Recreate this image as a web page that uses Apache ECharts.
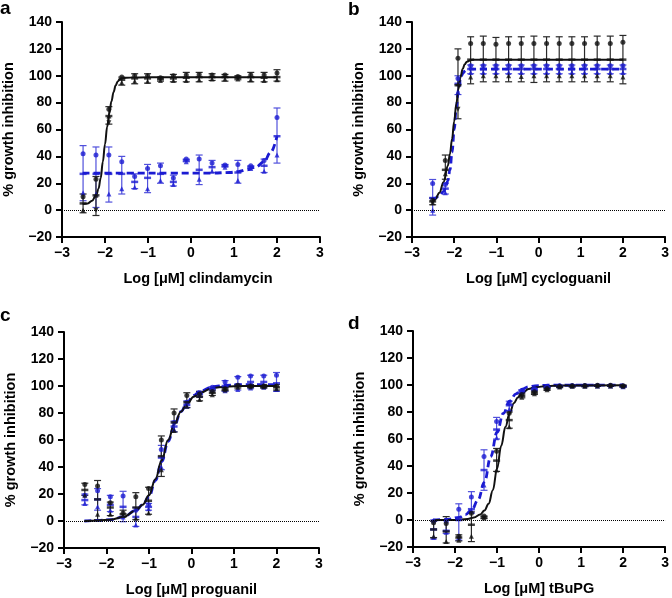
<!DOCTYPE html>
<html><head><meta charset="utf-8">
<script src="https://cdn.jsdelivr.net/npm/echarts@6/dist/echarts.min.js"></script>
<style>html,body{margin:0;padding:0;background:#fff}#c{width:672px;height:598px}</style>
</head><body><div id="c"></div>
<script>
// log10 concentrations (µM), 2-fold dilutions
const conc = [-2.51, -2.21, -1.91, -1.61, -1.31, -1.01, -0.71, -0.41, -0.11, 0.19, 0.49, 0.79, 1.09, 1.39, 1.70, 2.00];
const xTicks = [-3, -2, -1, 0, 1, 2, 3];
const yTicks = [-20, 0, 20, 40, 60, 80, 100, 120, 140];

// ---- panel a: clindamycin ----
const aBlkMean = [5, 11, 70, 97, 98, 98, 97.5, 98, 98.5, 99, 99, 99, 98.5, 99, 98.5, 99];
const aBlkLo = [-2, -4, 64, 93, 94, 94.5, 96, 95.5, 95.5, 95.5, 96.5, 96, 97, 95.5, 95.5, 96];
const aBlkHi = [12, 25, 77, 99, 101.5, 101.5, 99, 101, 102.5, 102.5, 101.5, 101, 100, 102.5, 102.5, 104.5];
const aBlkReps = [[10,0],[23,11,0],[75,70,65],[99,95],[100,96],[100,96],[98.5,96.5],[100,96.5],[100.5,96.5],[101,97],[100.5,97.5],[100.5,97.5],[99.5,97.5],[100.5,97],[100.5,96.5],[102,97]];
const aBluMean = [27, 27, 27, 27, 21, 24, 27, 21, 37, 30, 32, 33, 28, 32, 33, 55];
const aBluLo = [7, 2, 6, 12, 16, 13, 20, 18, 36, 19, 28, 32, 20, 31, 28, 35];
const aBluHi = [48, 47, 47, 40, 27, 34, 35, 26, 38, 41, 37, 34, 37, 33, 38, 76];
const aBluReps = [[42,13],[41,12],[41,12],[36,16],[25,17],[31,16],[33,22],[24,19],[38,36],[38,23],[35,29],[33.5,32],[34,22],[33,31],[37,29],[69,41]];
const aBlkCurveX = [-2.52, -2.4, -2.3, -2.2, -2.15, -2.1, -2.05, -2.0, -1.95, -1.9, -1.85, -1.8, -1.75, -1.7, -1.65, -1.6, -1.4, -1.0, 0, 1, 2.0];
const aBlkCurveY = [4.5, 5, 7, 11.5, 16, 24, 36, 49, 62, 72, 81, 88, 93, 96, 97.5, 98.2, 98.7, 98.8, 98.8, 98.8, 98.8];
const aBluCurveX = [-2.52, -1.5, -0.5, 0.5, 0.9, 1.1, 1.3, 1.5, 1.7, 1.85, 2.0];
const aBluCurveY = [27.5, 27.5, 27.5, 27.6, 28, 28.7, 30, 32, 36, 43, 55];

// ---- panel b: cycloguanil ----
const bBlkMean = [6.5, 30, 93, 112, 112, 112, 112, 112, 112, 112, 112, 112, 112, 112, 112, 112];
const bBlkLo = [4, 23, 68, 94, 95.5, 95.5, 95.5, 95.5, 95, 95.5, 95.5, 95.5, 95.5, 95.5, 95.5, 94];
const bBlkHi = [9, 41, 120, 129, 129.5, 128.5, 129, 129, 129.5, 129, 129, 129, 129, 129.5, 129.5, 130];
const bBlkReps = [[7.4,5.5],[37,27],[113,94,75],[124,99],[124,100],[123.5,100],[124,100],[124,99.5],[124,100],[124,100],[124,100],[124,100],[124,100],[124,100],[124,100],[125,99]];
const bBluMean = [9, 16, 94, 105, 105, 105, 105, 105, 105, 105, 105, 105, 105, 105, 105, 105];
const bBluLo = [-3.7, 12, 86, 101.5, 101.5, 101.5, 101.5, 101.5, 101.5, 101.5, 101.5, 101.5, 101.5, 101.5, 101.5, 101.5];
const bBluHi = [22.8, 20, 100, 108, 108, 108, 108, 108, 108, 108, 108, 108, 108, 108, 108, 108];
const bBluReps = [[19.8,0],[19,13],[98,88],[107.5,102.5],[107.5,102.5],[107.5,102.5],[107.5,102.5],[107.5,102.5],[107.5,102.5],[107.5,102.5],[107.5,102.5],[107.5,102.5],[107.5,102.5],[107.5,102.5],[107.5,102.5],[107.5,102.5]];
const bBlkCurveX = [-2.53, -2.45, -2.35, -2.25, -2.15, -2.1, -2.05, -2.0, -1.95, -1.9, -1.85, -1.8, -1.75, -1.7, -1.6, -1.5, 0, 2.0];
const bBlkCurveY = [5.5, 8, 13, 21, 33, 42, 53, 66, 79, 90, 99, 105, 108.5, 110.5, 111.7, 112, 112, 112];
const bBluCurveX = [-2.53, -2.45, -2.35, -2.25, -2.2, -2.15, -2.1, -2.05, -2.0, -1.95, -1.9, -1.85, -1.8, -1.75, -1.7, -1.6, 0, 2.0];
const bBluCurveY = [8, 9, 11, 14, 17, 22, 30, 43, 60, 76, 89, 97.5, 101.5, 103.5, 104.5, 105, 105, 105];

// ---- panel c: proguanil ----
const cBlkMean = [23, 16, 10, 5, 10, 15, 48, 73, 88, 92, 95, 97.5, 100, 100, 99.5, 99];
const cBlkLo = [19, 1, 4, 3, 1, 5, 33, 66, 84, 89, 93, 96.5, 98.5, 99, 98.5, 97];
const cBlkHi = [28, 30, 14, 8, 21, 25, 63, 83, 95, 96, 97, 99, 101, 101, 101, 101];
const cBlkReps = [[27,19],[26,5],[13.6,5],[6,4],[18,2],[24,6],[60,38],[80,67],[93,85],[94,90],[96,93.5],[98,97],[100.5,99],[100,99.5],[100,99.5],[100,98]];
const cBluMean = [15.5, 16, 12, 10.5, 3, 10.5, 47, 70, 86, 94, 98, 100, 101, 103, 103, 102];
const cBluLo = [12, 8, 7, -0.5, -4, 8, 38, 66, 84, 92, 96.5, 96, 97, 98, 98.5, 96];
const cBluHi = [20, 24, 19, 22, 10, 13, 56, 74, 89, 96, 99.5, 104, 107, 108, 108, 110];
const cBluReps = [[19,13],[22.5,10.6],[18,8],[18.5,3],[8,-3],[12,9],[53,40],[73,68],[88,85],[95,93],[99,97],[103,96.5],[106.5,97.5],[107.5,98.5],[107.5,99],[108,97.5]];
const cBlkCurveX = [-2.52, -2.2, -1.9, -1.6, -1.3, -1.15, -1.0, -0.85, -0.7, -0.55, -0.4, -0.25, -0.1, 0.05, 0.2, 0.5, 0.8, 1.2, 2.0];
const cBlkCurveY = [0, 0.4, 1, 3, 8, 12, 19, 31, 45, 60, 72, 81, 87, 92, 95, 98.5, 99.5, 100, 100];
const cBluCurveX = [-2.52, -2.2, -1.9, -1.6, -1.3, -1.15, -1.0, -0.85, -0.7, -0.55, -0.4, -0.25, -0.1, 0.05, 0.2, 0.5, 0.8, 1.2, 2.0];
const cBluCurveY = [0, 0.4, 1, 3, 8, 12, 18, 30, 44, 59, 71, 81, 88, 93, 96, 99.5, 100.5, 101, 101];

// ---- panel d: tBuPG ----
const dBlkMean = [-7, -8.5, -13, -3.5, 2, 44, 74, 92, 94.3, 97, 98.8, 99.2, 99.3, 99.5, 99.5, 99.2];
const dBlkLo = [-13, -17, -15.5, -16, 1, 36, 68, 90.5, 93, 96, 98, 98.5, 98.7, 99, 99, 98.5];
const dBlkHi = [-1, 2.5, -11, 6, 3, 53, 80, 93.5, 95.5, 98, 99.5, 99.8, 100, 100, 100, 100];
const dBlkReps = [[-2,-12],[-2.5,-16],[-12,-15],[5,-12],[3,1.5],[51,37],[79,69],[93,91],[95,93.6],[97.5,96.5],[99,98.5],[99.5,99],[99.6,99],[99.8,99.2],[99.8,99.2],[99.5,99]];
const dBluMean = [-7, -8, 0, 8, 37, 67, 85, 95.5, 97, 98.5, 99.3, 99.5, 99.5, 99.5, 99.5, 99];
const dBluLo = [-14, -10, -15, 5, 22, 60, 81, 94.5, 96, 98, 99, 99, 99, 99, 99, 98.5];
const dBluHi = [0, 0, 12, 21, 52, 76, 88, 96.5, 98, 99, 99.6, 100, 100, 100, 100, 99.5];
const dBluReps = [[-1,-13],[-1,-9],[8,-13],[17,7],[47,26],[73,61],[86.5,82],[96,95],[97.5,96.5],[99,98],[99.5,99],[99.7,99.3],[99.7,99.3],[99.7,99.3],[99.7,99.3],[99.3,98.7]];
const dBlkCurveX = [-2.52, -2.0, -1.7, -1.55, -1.4, -1.3, -1.2, -1.1, -1.0, -0.9, -0.8, -0.7, -0.6, -0.5, -0.4, -0.25, -0.1, 0.2, 0.5, 2.0];
const dBlkCurveY = [0, 0, 0.8, 1.8, 4, 7, 12, 22, 38, 55, 69, 79, 86.5, 91, 94, 97, 98.3, 99.3, 99.7, 99.8];
const dBluCurveX = [-2.52, -2.2, -1.9, -1.75, -1.6, -1.45, -1.3, -1.15, -1.0, -0.85, -0.7, -0.55, -0.4, -0.25, -0.1, 0.2, 2.0];
const dBluCurveY = [0, 0.5, 2, 4, 7.5, 15, 28, 47, 65, 79, 88, 93.5, 97, 98.7, 99.4, 99.8, 100];

const panelLetters = ['a', 'b', 'c', 'd'];
const xNames = ['clindamycin', 'cycloguanil', 'proguanil', 'tBuPG'];
const yName = '% growth inhibition';

const F = '"Liberation Sans", Arial, Helvetica, sans-serif';
const BLK = '#111111', BLU = '#1b1bd2';
const BLK_ERR = '#2a2a2a', BLU_ERR = '#5050dc';

const grids = [
  {left: 62, top: 22, width: 258, height: 215},
  {left: 412, top: 22, width: 256, height: 215},
  {left: 64, top: 332, width: 255, height: 216},
  {left: 413, top: 331, width: 255, height: 216}
];

const minus = v => (v < 0 ? '\u2212' + (-v) : String(v));

function xAx(gi, drug, shift) {
  return {
    gridIndex: gi, type: 'value', min: xTicks[0], max: xTicks[xTicks.length - 1], interval: 1,
    name: 'Log [\u03bcM] ' + drug, nameLocation: 'middle', nameGap: 34,
    nameTextStyle: {fontSize: 14.5, fontWeight: 'bold', color: '#000', fontFamily: F, padding: [0, 0, 0, shift]},
    axisLine: {onZero: false, lineStyle: {color: '#000', width: 2}},
    axisTick: {length: 6, lineStyle: {color: '#000', width: 2}},
    axisLabel: {fontSize: 14, fontWeight: 'bold', color: '#000', fontFamily: F, margin: 9, formatter: minus, showMinLabel: true, showMaxLabel: true},
    splitLine: {show: false}
  };
}
function yAx(gi) {
  return {
    gridIndex: gi, type: 'value', min: yTicks[0], max: yTicks[yTicks.length - 1], interval: 20,
    name: yName, nameLocation: 'middle', nameGap: 46,
    nameTextStyle: {fontSize: 14.5, fontWeight: 'bold', color: '#000', fontFamily: F},
    axisLine: {onZero: false, lineStyle: {color: '#000', width: 2}},
    axisTick: {length: 6, lineStyle: {color: '#000', width: 2}},
    axisLabel: {fontSize: 14, fontWeight: 'bold', color: '#000', fontFamily: F, margin: 10, formatter: minus},
    splitLine: {show: false}
  };
}

function errSeries(gi, lo, hi, color) {
  return {
    type: 'custom', xAxisIndex: gi, yAxisIndex: gi, silent: true, z: 2,
    data: conc.map((x, i) => [x, lo[i], hi[i]]),
    encode: {x: 0, y: [1, 2]},
    renderItem: function (params, api) {
      const x = api.value(0);
      const p1 = api.coord([x, api.value(1)]);
      const p2 = api.coord([x, api.value(2)]);
      const w = 3.5;
      const st = {stroke: color, lineWidth: 1.2};
      return {type: 'group', children: [
        {type: 'line', shape: {x1: p1[0], y1: p1[1], x2: p2[0], y2: p2[1]}, style: st},
        {type: 'line', shape: {x1: p1[0] - w, y1: p1[1], x2: p1[0] + w, y2: p1[1]}, style: st},
        {type: 'line', shape: {x1: p2[0] - w, y1: p2[1], x2: p2[0] + w, y2: p2[1]}, style: st}
      ]};
    }
  };
}
const SYMS = ['circle', 'triangle', 'path://M0,0 L10,0 L5,10 Z'];
function repSeries(gi, reps, color) {
  const data = [];
  reps.forEach((arr, i) => arr.forEach((v, k) => data.push({value: [conc[i], v], symbol: SYMS[k % 3]})));
  return {type: 'scatter', xAxisIndex: gi, yAxisIndex: gi, silent: true, z: 4, data,
    symbolSize: 5, itemStyle: {color: color}};
}
function meanSeries(gi, mean, color) {
  return {type: 'scatter', xAxisIndex: gi, yAxisIndex: gi, silent: true, z: 4,
    data: conc.map((x, i) => [x, mean[i]]), symbol: 'rect', symbolSize: [7, 2.5], itemStyle: {color: color}};
}
function curveSeries(gi, xs, ys, color, dashed) {
  return {type: 'line', xAxisIndex: gi, yAxisIndex: gi, silent: true, z: 3,
    data: xs.map((x, i) => [x, ys[i]]), smooth: 0.4, smoothMonotone: 'x', showSymbol: false,
    lineStyle: dashed ? {color: color, width: 2.8, type: [7, 4]} : {color: color, width: 2}};
}
function zeroLine(gi) {
  return {type: 'line', xAxisIndex: gi, yAxisIndex: gi, silent: true, data: [], z: 1,
    markLine: {silent: true, symbol: 'none', label: {show: false},
      lineStyle: {type: 'dotted', color: '#000', width: 1}, data: [{yAxis: 0}]}};
}

const panels = [
  {blk: [aBlkMean, aBlkLo, aBlkHi, aBlkReps, aBlkCurveX, aBlkCurveY], blu: [aBluMean, aBluLo, aBluHi, aBluReps, aBluCurveX, aBluCurveY]},
  {blk: [bBlkMean, bBlkLo, bBlkHi, bBlkReps, bBlkCurveX, bBlkCurveY], blu: [bBluMean, bBluLo, bBluHi, bBluReps, bBluCurveX, bBluCurveY]},
  {blk: [cBlkMean, cBlkLo, cBlkHi, cBlkReps, cBlkCurveX, cBlkCurveY], blu: [cBluMean, cBluLo, cBluHi, cBluReps, cBluCurveX, cBluCurveY]},
  {blk: [dBlkMean, dBlkLo, dBlkHi, dBlkReps, dBlkCurveX, dBlkCurveY], blu: [dBluMean, dBluLo, dBluHi, dBluReps, dBluCurveX, dBluCurveY]}
];

const series = [];
panels.forEach((p, gi) => {
  series.push(zeroLine(gi));
  [['blu', BLU, BLU_ERR, true], ['blk', BLK, BLK_ERR, false]].forEach(([k, col, ecol, dashed]) => {
    const [mean, lo, hi, reps, cx, cy] = p[k];
    series.push(errSeries(gi, lo, hi, ecol));
    series.push(repSeries(gi, reps, col));
    series.push(meanSeries(gi, mean, col));
    series.push(curveSeries(gi, cx, cy, col, dashed));
  });
});

const letterPos = [[0, 14], [348, 15], [0, 321], [348, 329]];
const graphic = panelLetters.map((t, i) => ({
  type: 'text', left: letterPos[i][0], top: letterPos[i][1] - 15,
  style: {text: t, font: 'bold 19px ' + F, fill: '#000'}
}));

const chart = echarts.init(document.getElementById('c'), null, {renderer: 'canvas'});
chart.setOption({
  animation: false,
  backgroundColor: '#fff',
  grid: grids,
  xAxis: [xAx(0, xNames[0], 14), xAx(1, xNames[1], 0), xAx(2, xNames[2], 0), xAx(3, xNames[3], 0)],
  yAxis: [yAx(0), yAx(1), yAx(2), yAx(3)],
  graphic: graphic,
  series: series
});
</script></body></html>
